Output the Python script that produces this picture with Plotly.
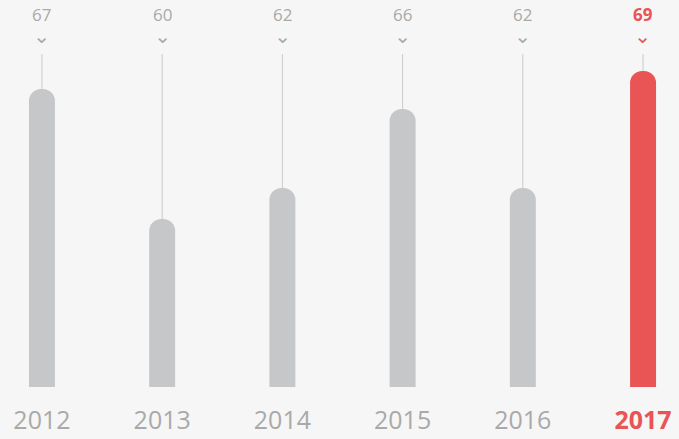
import plotly.graph_objects as go

years = ["2012", "2013", "2014", "2015", "2016", "2017"]
scores = [67, 60, 62, 66, 62, 69]
bar_heights = [298, 168, 199, 278, 199, 316]  # visual bar heights (px units of chart)
highlight = "2017"

GRAY_BAR = "#c6c7c9"
RED = "#e95454"
TXT = "#a9a9a9"
BG = "#f6f6f6"
LINE_TOP = 333
LABEL_Y = 387

x = list(range(len(years)))
colors = [RED if y == highlight else GRAY_BAR for y in years]

fig = go.Figure()
fig.add_trace(go.Bar(
    x=x, y=bar_heights, width=0.216,
    marker=dict(color=colors, cornerradius="50%", line=dict(width=0)),
    error_y=dict(type="data", symmetric=False,
                 array=[LINE_TOP - h for h in bar_heights],
                 arrayminus=[0] * len(x),
                 color="#cacaca", thickness=1, width=0),
    hoverinfo="skip",
))

for xi, (yr, s) in enumerate(zip(years, scores)):
    hi = yr == highlight
    c = RED if hi else TXT
    num = f"<b>{s}</b>" if hi else str(s)
    fig.add_annotation(x=xi, y=LABEL_Y,
                       text=f"{num}<br><span style='font-family:DejaVu Sans;font-size:20px'>⌄</span>",
                       showarrow=False, font=dict(size=17, color=c, family="Open Sans"),
                       xanchor="center", yanchor="top", yshift=-2, borderpad=0)

ticktext = [f"<b><span style='color:{RED}'>{y}</span></b>" if y == highlight else y for y in years]

fig.update_layout(
    width=679, height=439,
    margin=dict(l=0, r=0, t=0, b=52),
    paper_bgcolor=BG, plot_bgcolor=BG,
    showlegend=False,
    xaxis=dict(range=[-0.349, 5.299], tickvals=x, ticktext=ticktext,
               showgrid=False, zeroline=False, showline=False, ticks="",
               ticklabelstandoff=16,
               tickfont=dict(size=25, color=TXT, family="Open Sans")),
    yaxis=dict(range=[0, 387], visible=False, showgrid=False, zeroline=False),
)

fig.write_html("out.html", config={"displayModeBar": False},
               post_script="document.body.style.margin='0';document.body.style.padding='0';document.body.style.background='%s';" % BG)
